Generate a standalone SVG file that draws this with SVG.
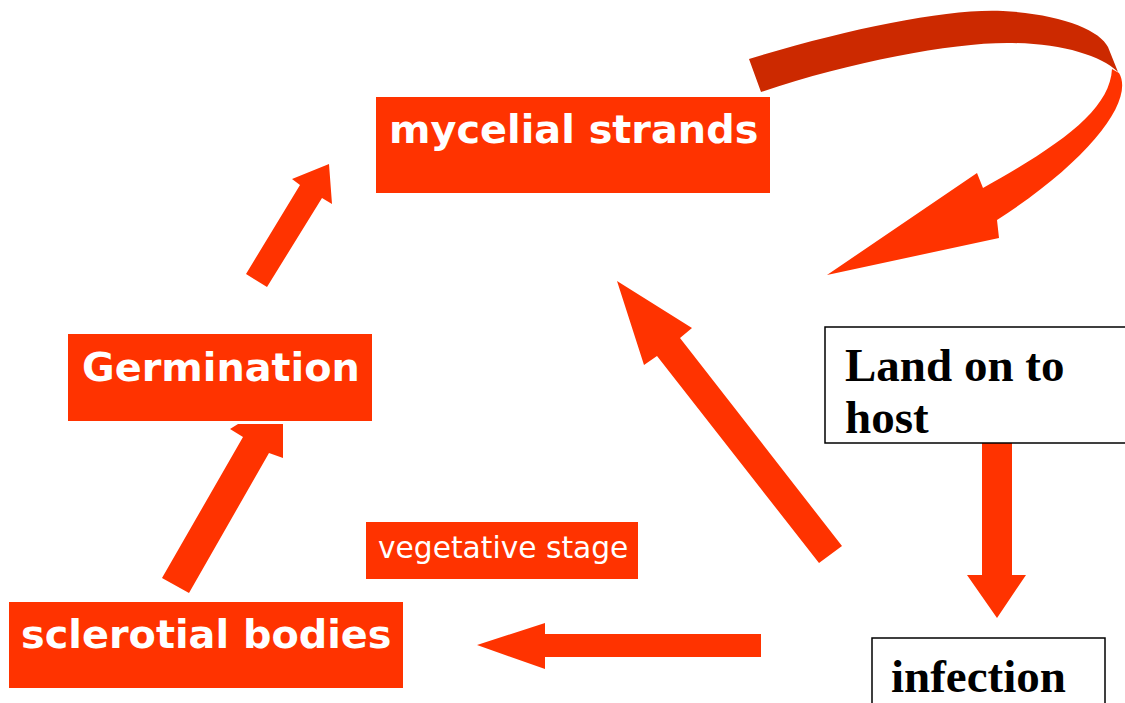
<svg xmlns="http://www.w3.org/2000/svg" width="1125" height="703" viewBox="0 0 1125 703">
<style>
.o{fill:#FF3300}
.d{fill:#CC2900}
.lb{font-family:"DejaVu Sans",Verdana,sans-serif;font-weight:bold;font-size:39.8px;fill:#fff}
.ls{font-family:"DejaVu Sans",Verdana,sans-serif;font-size:29.7px;fill:#fff}
.bx{fill:#fff;stroke:#000;stroke-width:1.5}
.tb{font-family:"Liberation Serif","Times New Roman",serif;font-weight:bold;font-size:47px;fill:#000}
</style>
<rect width="1125" height="703" fill="#fff"/>
<g id="connectors">
<polygon class="o" points="246,274 300,185 292,179 329,164 332,204 322,198 267,287"/>
<polygon class="o" points="162,578 243,437 230,429 238,424 283,424 283,458 269,453 189,593"/>
<polygon class="o" points="842,546 680,338 692,328 617,281 644,365 657,356 819,563"/>
<polygon class="o" points="477,645 545,623 545,634 761,634 761,657 545,657 545,669"/>
<polygon class="o" points="982,442 1012,442 1012,575 1026,575 997,618 967,575 982,575"/>
<path class="d" d="M749,59 C850,28 950,8 1003,11 C1060,14 1100,30 1108,47 L1118,72 C1100,55 1060,43 1007,43 C950,43 850,62 761,92 Z"/>
<path class="o" d="M1112,69 L1119,73 C1135,100 1090,160 997,220 L999,238 L827,275 L977,173 L983,188 C1060,145 1110,110 1112,69 Z"/>
</g>
<g id="mycelial">
<rect class="o" x="376" y="97" width="394" height="96"/>
<text class="lb" x="389" y="143">mycelial strands</text>
</g>
<g id="germination">
<rect class="o" x="68" y="334" width="304" height="87"/>
<text class="lb" x="82" y="381">Germination</text>
</g>
<g id="sclerotial">
<rect class="o" x="9" y="602" width="394" height="86"/>
<text class="lb" x="21" y="648">sclerotial bodies</text>
</g>
<g id="vegetative">
<rect class="o" x="366" y="522" width="272" height="57"/>
<text class="ls" x="378" y="558">vegetative stage</text>
</g>
<g id="land">
<rect class="bx" x="825" y="327" width="310" height="116"/>
<text class="tb" x="845" y="381">Land on to</text>
<text class="tb" x="845" y="433">host</text>
</g>
<g id="infection">
<rect class="bx" x="872" y="638" width="233" height="80"/>
<text class="tb" x="891" y="692">infection</text>
</g>
</svg>
